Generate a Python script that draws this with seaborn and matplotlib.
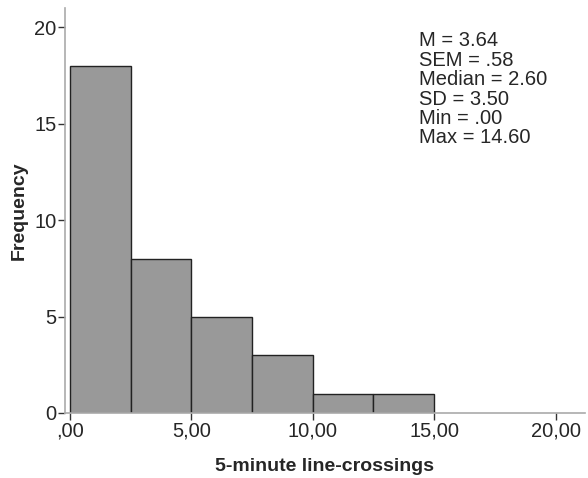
import numpy as np
import pandas as pd
import matplotlib
matplotlib.use("Agg")
import matplotlib.pyplot as plt
import seaborn as sns

# histogram bins (width 2.5) and counts
bin_edges = [0, 2.5, 5, 7.5, 10, 12.5, 15]
counts = [18, 8, 5, 3, 1, 1]
x_ticks = [0, 5, 10, 15, 20]
x_tick_labels = [",00", "5,00", "10,00", "15,00", "20,00"]
y_ticks = [0, 5, 10, 15, 20]
stats_text = "M = 3.64\nSEM = .58\nMedian = 2.60\nSD = 3.50\nMin = .00\nMax = 14.60"

centers = [(a + b) / 2 for a, b in zip(bin_edges[:-1], bin_edges[1:])]
df = pd.DataFrame({"value": centers, "count": counts})

sns.set_style("white")
plt.rcParams['font.family'] = ['Liberation Sans', 'DejaVu Sans']

fig = plt.figure(figsize=(5.88, 4.78), dpi=100)
ax = fig.add_axes([0.1105, 0.136, 0.884, 0.847])

sns.histplot(data=df, x="value", weights="count", bins=bin_edges, ax=ax,
             color="#999999", edgecolor="#222222", linewidth=1.0, alpha=1.0)

ax.set_xlim(-0.2, 21.2)
ax.set_ylim(0, 21)
ax.set_xticks(x_ticks)
ax.set_xticklabels(x_tick_labels)
ax.set_yticks(y_ticks)
ax.tick_params(axis="both", labelsize=14.5, length=5, width=1, color="#333333",
               direction="out", bottom=True, left=True, pad=1)

for side in ["top", "right"]:
    ax.spines[side].set_visible(False)
for side in ["left", "bottom"]:
    ax.spines[side].set_color("#aaaaaa")
    ax.spines[side].set_linewidth(1.2)

ax.set_xlabel("5-minute line-crossings", fontsize=14, fontweight="bold", labelpad=13)
ax.set_ylabel("Frequency", fontsize=14, fontweight="bold", labelpad=5)

ax.text(0.681, 0.943, stats_text, transform=ax.transAxes, fontsize=14.5,
        va="top", ha="left", linespacing=1.03)

fig.savefig("out.png", dpi=100)
